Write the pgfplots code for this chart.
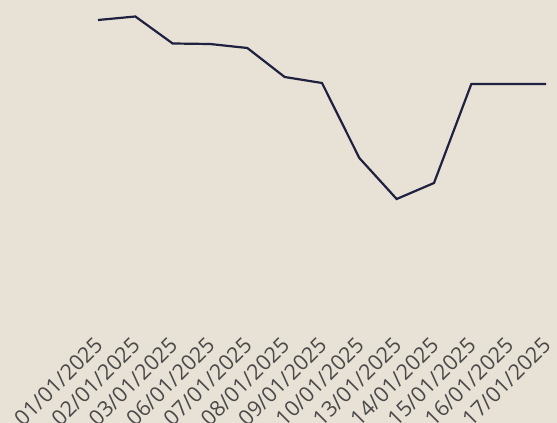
\documentclass[border=0pt]{standalone}
\usepackage{fontspec}
\setmainfont{Open Sans}
\usepackage{pgfplots}
\pgfplotsset{compat=1.18}
\definecolor{bg}{HTML}{E8E1D5}
\definecolor{navy}{HTML}{1F2140}
\definecolor{lbl}{HTML}{4A4A4A}
\begin{document}
\begin{tikzpicture}[x=1pt,y=1pt]
\fill[bg] (0,0) rectangle (557,423);
\clip (0,0) rectangle (557,423);
\begin{axis}[at={(98pt,93pt)}, anchor=south west, scale only axis,
  width=448pt, height=330pt, xmin=0, xmax=12, ymin=93, ymax=423,
  axis line style={draw=none}, ytick=\empty, major tick length=0pt,
  xtick={0,...,12},
  xticklabels={01/01/2025,02/01/2025,03/01/2025,06/01/2025,07/01/2025,08/01/2025,09/01/2025,10/01/2025,13/01/2025,14/01/2025,15/01/2025,16/01/2025,17/01/2025},
  xticklabel style={xshift=-5pt, yshift=-4pt, rotate=45, anchor=north east, inner sep=1pt, text=lbl, font=\fontsize{21.5}{24}\selectfont},
  clip=false]
\addplot[navy, line width=2.2pt, mark=none] coordinates {
(0,403) (1,406.5) (2,379.5) (3,379) (4,375) (5,346) (6,340) (7,265) (8,224) (9,240) (10,339) (11,339) (12,339)};
\end{axis}
\end{tikzpicture}
\end{document}
